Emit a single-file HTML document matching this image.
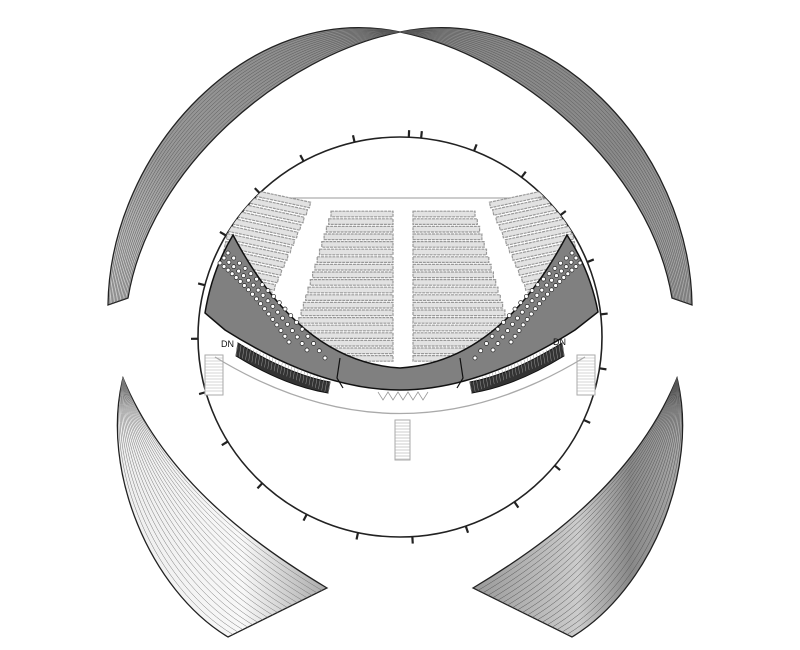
<!DOCTYPE html>
<html><head><meta charset="utf-8"><style>
html,body{margin:0;padding:0;background:#fff;}
svg{display:block;}
</style></head><body>
<svg id="plan" width="800" height="650" viewBox="0 0 800 650" xmlns="http://www.w3.org/2000/svg">
<defs>
<linearGradient id="gTL" x1="0" y1="1" x2="1" y2="0"><stop offset="0" stop-color="#d0d0d0"/><stop offset="0.35" stop-color="#999"/><stop offset="1" stop-color="#888"/></linearGradient>
<linearGradient id="gTR" x1="0" y1="0" x2="1" y2="1"><stop offset="0" stop-color="#888"/><stop offset="0.6" stop-color="#8a8a8a"/><stop offset="1" stop-color="#aaa"/></linearGradient>
<linearGradient id="gBL" x1="0" y1="0" x2="1" y2="0"><stop offset="0" stop-color="#eee"/><stop offset="0.6" stop-color="#f8f8f8"/><stop offset="1" stop-color="#aaa"/></linearGradient>
<linearGradient id="gBR" x1="0" y1="0" x2="1" y2="0"><stop offset="0" stop-color="#999"/><stop offset="0.5" stop-color="#ccc"/><stop offset="0.75" stop-color="#888"/><stop offset="1" stop-color="#aaa"/></linearGradient>
<clipPath id="circClip"><ellipse cx="400" cy="337" rx="202" ry="200"/></clipPath>
</defs>
<g id="shells"></g>
<g id="hall"></g>
</svg>
<script>
const NS='http://www.w3.org/2000/svg';
function mk(tag,attrs,parent){const e=document.createElementNS(NS,tag);for(const k in attrs)e.setAttribute(k,attrs[k]);parent.appendChild(e);return e;}
const shells=document.getElementById('shells');
const hall=document.getElementById('hall');
const L=(a,b,t)=>a+(b-a)*t;
function P(p){return p[0].toFixed(1)+','+p[1].toFixed(1);}
const shellNames=['shell-top-left','shell-top-right','shell-bottom-left','shell-bottom-right'];
const shellOuter=[
 [[108,305],[110,150],[250,0],[400,32]],
 null,
 [[123,378],[100,470],[150,590],[228,637]],
 null];
const shellInner=[
 [[128,298],[150,165],[285,55],[400,32]],
 null,
 [[123,378],[165,480],[255,545],[327,588]],
 null];
const mir=c=>c.map(p=>[800-p[0],p[1]]);
shellOuter[1]=mir(shellOuter[0]);shellInner[1]=mir(shellInner[0]);
shellOuter[3]=mir(shellOuter[2]);shellInner[3]=mir(shellInner[2]);
const fills=['url(#gTL)','url(#gTR)','url(#gBL)','url(#gBR)'];
for(let s=0;s<4;s++){
 const o=shellOuter[s],n=shellInner[s];
 const g=mk('g',{},shells);
 
 
 let d='M'+P(o[0])+' C'+P(o[1])+' '+P(o[2])+' '+P(o[3]);
 if(s<2){d+=' C'+P(n[2])+' '+P(n[1])+' '+P(n[0])+' Z';}
 else{d+=' L'+P(n[3])+' C'+P(n[2])+' '+P(n[1])+' '+P(n[0])+' Z';}
 mk('path',{d:d,fill:fills[s],stroke:'#222','stroke-width':1.3},g);
 const N=s<2?14:20;
 for(let i=1;i<N;i++){const t=i/N;
  const c=[0,1,2,3].map(k=>[L(o[k][0],n[k][0],t),L(o[k][1],n[k][1],t)]);
  mk('path',{d:'M'+P(c[0])+' C'+P(c[1])+' '+P(c[2])+' '+P(c[3]),fill:'none',stroke:s==2?'#777':'#555','stroke-width':0.5},g);
 }
}
const circ=mk('ellipse',{cx:400,cy:337,rx:202,ry:200,fill:'#fff',stroke:'#222','stroke-width':1.6},hall);


const tickAngles=[];for(let a=-84;a<276;a+=15.5)tickAngles.push(a);
for(const a of tickAngles){const r=a*Math.PI/180;const x=400+202*Math.cos(r),y=337+200*Math.sin(r);
 const t=mk('line',{x1:x,y1:y,x2:400+209*Math.cos(r),y2:337+207*Math.sin(r),stroke:'#222','stroke-width':2.2},hall);
 
 }
const sl=mk('line',{x1:262,y1:198,x2:545,y2:198,stroke:'#999','stroke-width':1},hall);


const seats=mk('g',{'clip-path':'url(#circClip)'},hall);


const rowCount=20;
for(let i=0;i<rowCount;i++){const y=214+i*7.6;const w=62+i*2.3;
 mk('rect',{x:393-w,y:y-2.8,width:w,height:5.6,fill:'#e2e2e2',stroke:'#999','stroke-width':1.2,'stroke-dasharray':'3 0.8'},seats);
 mk('rect',{x:413,y:y-2.8,width:w,height:5.6,fill:'#e2e2e2',stroke:'#999','stroke-width':1.2,'stroke-dasharray':'3 0.8'},seats);
}
for(let side=0;side<2;side++){
 const g=mk('g',{transform:side?'translate(800,0) scale(-1,1)':''},seats);
 for(let i=0;i<16;i++){const y=205+i*7.5;const x1=255-i*1.6, x2=310-i*3.2;
  mk('rect',{x:x1-20,y:y-2.8,width:x2-x1+20,height:5.6,transform:'rotate(12 '+x2+' '+y+')',fill:'#e2e2e2',stroke:'#999','stroke-width':1.2,'stroke-dasharray':'3 0.8'},g);}
}
const band='M233,235 Q300,362 400,368 Q500,362 567,235 Q590,270 598,312 L575,330 Q480,390 400,390 Q320,390 225,330 L205,313 Q212,270 233,235 Z';
const b=mk('path',{d:band,fill:'#808080',stroke:'#111','stroke-width':1.5},hall);


mk('path',{d:'M340,358 L337,378 L343,388 M460,358 L463,378 L457,388',fill:'none',stroke:'#111','stroke-width':1.2},hall);
for(let side=0;side<2;side++){
 const g=mk('g',{transform:side?'translate(800,0) scale(-1,1)':''},hall);
 
 
 for(let r=0;r<3;r++)for(let k=0;k<18;k++){const t=k/17;
  const x=L(228+r*-4,325-r*18,t), y=L(253+r*5,358-r*8,t)+Math.sin(t*Math.PI)*-6;
  mk('circle',{cx:x,cy:y,r:2,fill:'#fff',stroke:'#222','stroke-width':0.7},g);}
 mk('path',{d:'M238,343 Q290,375 330,382 L328,393 Q285,386 236,356 Z',fill:'#333',stroke:'#111','stroke-width':1},g);
 for(let k=0;k<30;k++){const t=k/29;mk('line',{x1:L(238,330,t),y1:L(343,382,t),x2:L(236,328,t),y2:L(356,393,t),stroke:'#999','stroke-width':0.5},g);}
 mk('rect',{x:205,y:355,width:18,height:40,fill:'#fff',stroke:'#aaa','stroke-width':1},g);
 for(let k=1;k<13;k++)mk('line',{x1:205,y1:355+k*3,x2:223,y2:355+k*3,stroke:'#aaa','stroke-width':0.6},g);
}
for(const [x,y] of [[221,347],[553,345]]){const t=mk('text',{x:x,y:y,'font-family':'Liberation Sans, sans-serif','font-size':9,fill:'#111'},hall);t.textContent='DN';
 }
const la=mk('path',{d:'M215,357 Q400,470 585,357',fill:'none',stroke:'#aaa','stroke-width':1.3},hall);


mk('rect',{x:395,y:420,width:15,height:40,fill:'#fff',stroke:'#aaa','stroke-width':1},hall);
for(let k=1;k<14;k++)mk('line',{x1:395,y1:420+k*3,x2:410,y2:420+k*3,stroke:'#aaa','stroke-width':0.6},hall);
mk('path',{d:'M378,392 L383,400 L388,392 L393,400 L398,392 L403,400 L408,392 L413,400 L418,392 L423,400 L428,392',fill:'none',stroke:'#999','stroke-width':0.8},hall);
</script>
</body></html>
